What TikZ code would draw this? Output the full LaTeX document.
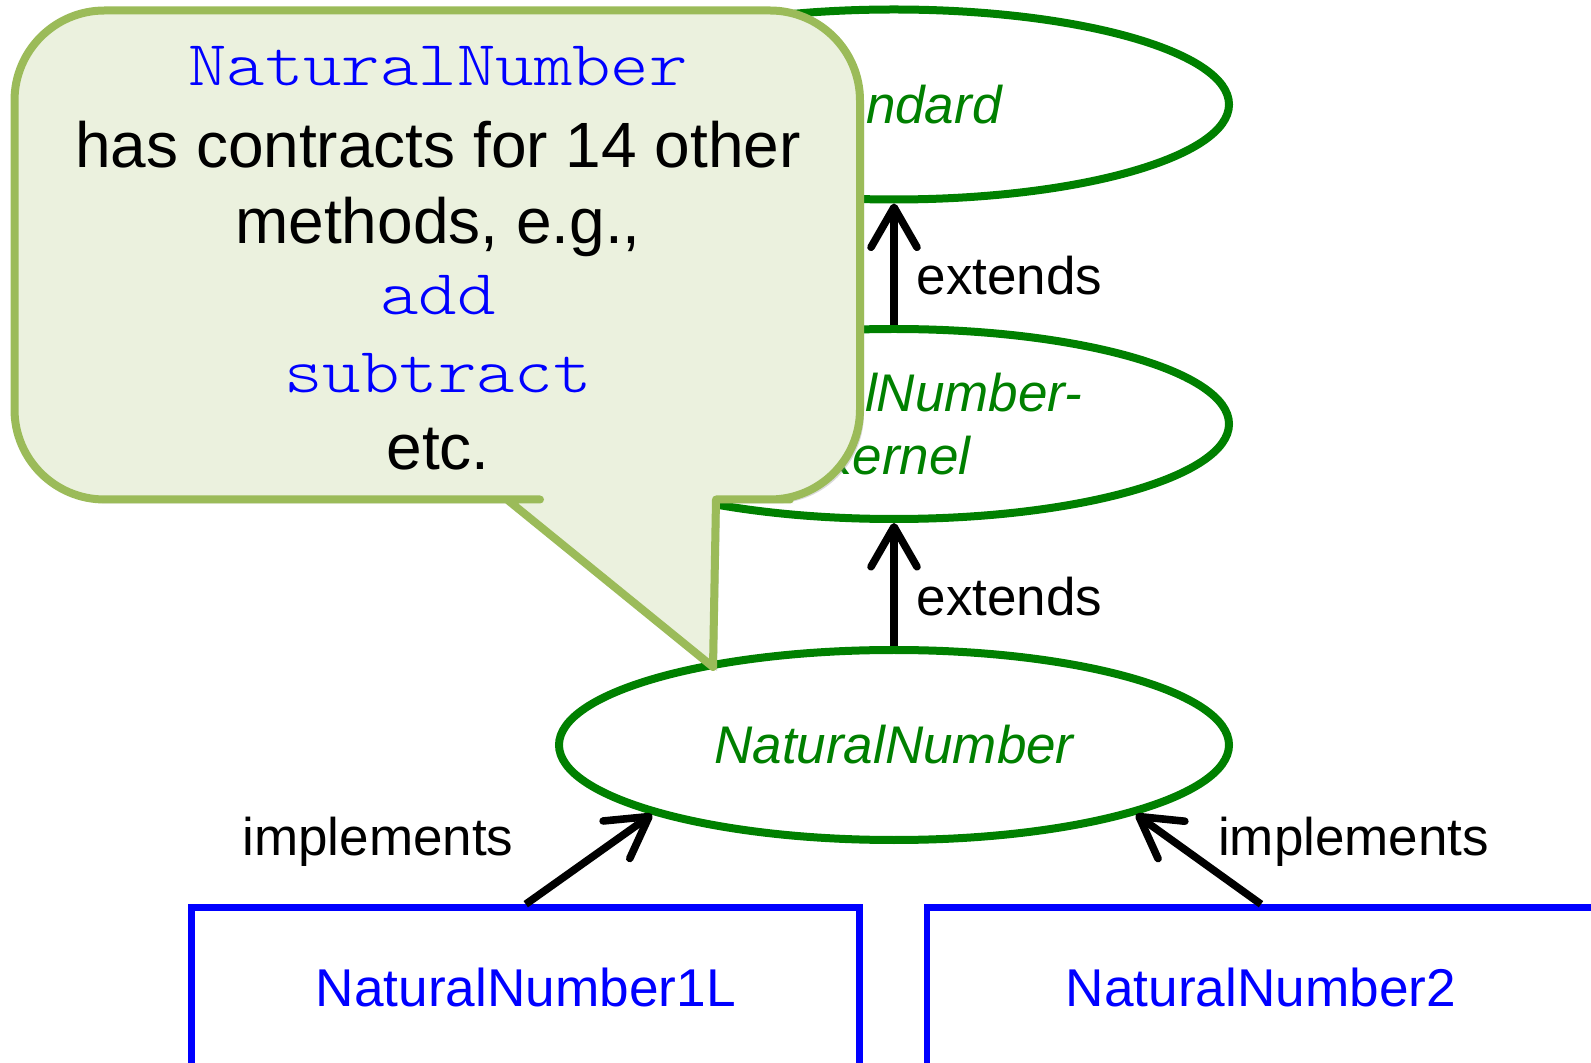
\documentclass[tikz,border=0pt]{standalone}
\usepackage{fontspec}
\setmainfont{Liberation Sans}
\newfontfamily\courfont[FakeStretch=1.143]{Latin Modern Mono Light}
\usetikzlibrary{shapes.geometric,arrows.meta,shadows}
\definecolor{ellgreen}{RGB}{0,128,0}
\definecolor{boxblue}{RGB}{0,0,255}
\definecolor{callfill}{RGB}{235,241,222}
\definecolor{callline}{RGB}{155,187,89}
\begin{document}
\begin{tikzpicture}[x=0.5pt,y=-0.5pt,
  ell/.style={ellipse, draw=ellgreen, line width=4pt, minimum width=335pt, minimum height=95pt, inner sep=0pt, text=ellgreen, font=\fontsize{26.5}{31.5}\selectfont\itshape, align=center},
  cls/.style={rectangle, draw=boxblue, line width=3.3pt, minimum width=334pt, minimum height=80.25pt, inner sep=0pt, text=boxblue, font=\fontsize{26.6}{30}\selectfont},
  arr/.style={line width=3.8pt, -{Straight Barb[length=20pt,width=23pt,round]}},
  lbl/.style={font=\fontsize{26.5}{30}\selectfont, inner sep=0pt},
  calltxt/.style={font=\fontsize{32}{38}\selectfont, anchor=base, inner sep=0pt},
  callcode/.style={font=\courfont\fontsize{32}{38}\selectfont, text=boxblue, anchor=base, inner sep=0pt},
  callout/.style={fill=callfill, draw=callline, line width=4pt, line join=round, drop shadow={opacity=0.3, shadow xshift=2pt, shadow yshift=-2pt}}
]
\useasboundingbox (0,0) rectangle (1591,1063);
\clip (0,0) rectangle (1591,1063);

% ellipses
\node[ell] (std) at (894,104.5) {Standard};
\node[ell] (kern) at (894,424) {NaturalNumber-\\Kernel};
\node[ell] (nn) at (894,745) {NaturalNumber};

% classes
\node[cls] (b1) at (525.75,987.75) {NaturalNumber1L};
\node[cls] (b2) at (1261,987.75) {NaturalNumber2};

% connectors
\draw[arr] (kern.north) -- node[lbl, pos=0.41, anchor=west, xshift=9.5pt] {extends} (std.south);
\draw[arr] (nn.north) -- node[lbl, pos=0.40, anchor=west, xshift=9.5pt] {extends} (kern.south);
\draw[arr] (b1.north) -- node[lbl, pos=0.70, anchor=east, xshift=-48.5pt] {implements} (nn.196);
\draw[arr] (b2.north) -- node[lbl, pos=0.70, anchor=west, xshift=20.5pt] {implements} (nn.344);

% callout
\path[callout] (507,499.5) -- (713,667) -- (716,499.5) -- (790,499.5) [rounded corners=45pt] -- (860,499.5) -- (860,10.5) -- (14.5,10.5) -- (14.5,499.5) -- (450,499.5) [sharp corners] -- cycle;
\node[callcode] (c1) at (438,86) {NaturalNumber};
\node[calltxt] (c2) at (438,167.5) {has contracts for 14 other};
\node[calltxt] (c3) at (438,243.5) {methods, e.g.,};
\node[callcode] (c4) at (438,314.5) {add};
\node[callcode] (c5) at (438,392.6) {subtract};
\node[calltxt] (c6) at (438,470) {etc.};
\end{tikzpicture}
\end{document}
